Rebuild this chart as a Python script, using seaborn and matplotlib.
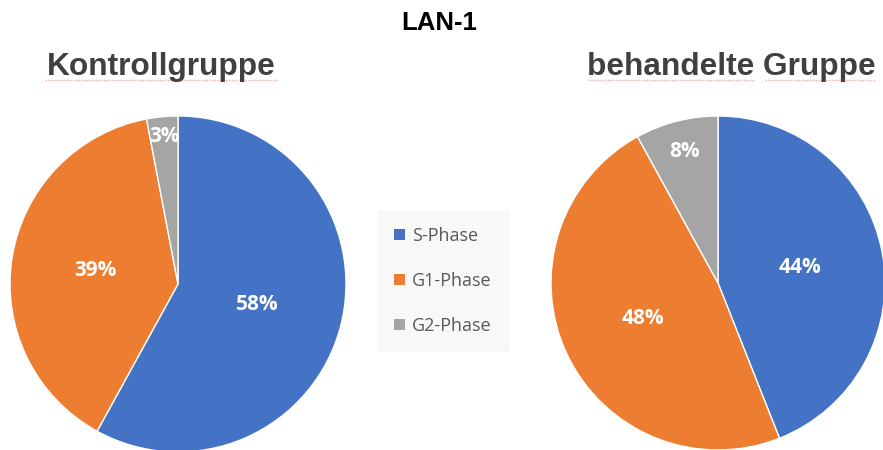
import matplotlib
matplotlib.use("Agg")
import matplotlib.pyplot as plt
import seaborn as sns
from matplotlib.patches import Patch
from matplotlib.lines import Line2D
import numpy as np

# ---- data ----
phases = ["S-Phase", "G1-Phase", "G2-Phase"]
kontroll = [58, 39, 3]
behandelt = [44, 48, 8]
groups = ["Kontrollgruppe", "behandelte Gruppe"]
title = "LAN-1"

# ---- style ----
sns.set_theme(style="white")
plt.rcParams["font.family"] = ["Liberation Sans", "DejaVu Sans"]
colors = ["#4472C4", "#ED7D31", "#A5A5A5"]

W, H = 883, 450
fig = plt.figure(figsize=(W / 100, H / 100), dpi=100)

def px_axes(cx, cy, r):
    return fig.add_axes([(cx - r) / W, (H - (cy + r)) / H, 2 * r / W, 2 * r / H])

label_dist = {0: [0.49, 0.50, 0.88], 1: [0.50, 0.50, 0.81]}
specs = [(178, 284, 168, kontroll), (718, 283, 167, behandelt)]
for i, (cx, cy, r, vals) in enumerate(specs):
    ax = px_axes(cx, cy, r)
    wedges, _ = ax.pie(vals, colors=colors, startangle=90, counterclock=False,
                       radius=1.0, wedgeprops=dict(edgecolor="white", linewidth=1))
    ax.set_xlim(-1, 1)
    ax.set_ylim(-1, 1)
    ax.set_aspect("equal")
    ax.axis("off")
    for j, (w, v) in enumerate(zip(wedges, vals)):
        ang = np.deg2rad((w.theta1 + w.theta2) / 2)
        d = label_dist[i][j]
        ax.text(d * np.cos(ang), d * np.sin(ang), f"{v}%", ha="center", va="center",
                color="white", fontsize=15, fontweight="bold",
                family=["Open Sans", "DejaVu Sans"])

# titles
fig.text(439 / W, 1 - 23 / H, title, ha="center", va="center",
         fontsize=18.5, fontweight="bold", color="black")
fig.text(161 / W, 1 - 67 / H, groups[0], ha="center", va="center",
         fontsize=22.8, fontweight="bold", color="#404040")
fig.text(731 / W, 1 - 67 / H, groups[1], ha="center", va="center",
         fontsize=22.8, fontweight="bold", color="#404040")

# spell-check style underlines
for x0, x1 in [(45, 277), (588, 755), (765, 875)]:
    fig.add_artist(Line2D([x0 / W, x1 / W], [1 - 80 / H, 1 - 80 / H],
                          color="#f2a8a8", linewidth=1, linestyle=(0, (1, 1)),
                          transform=fig.transFigure))

# legend
handles = [Patch(facecolor=c, edgecolor="none") for c in colors]
leg = fig.legend(handles, phases, loc="center", bbox_to_anchor=(443 / W, 1 - 281 / H),
                 frameon=True, fancybox=False, facecolor="#f7f7f7", edgecolor="#f7f7f7",
                 prop={"family": ["Open Sans", "DejaVu Sans"], "size": 13},
                 labelcolor="#595959", handlelength=0.6, handleheight=0.6,
                 handletextpad=0.4, labelspacing=1.5, borderpad=0.9, borderaxespad=0)

fig.savefig("out.png", dpi=100)
